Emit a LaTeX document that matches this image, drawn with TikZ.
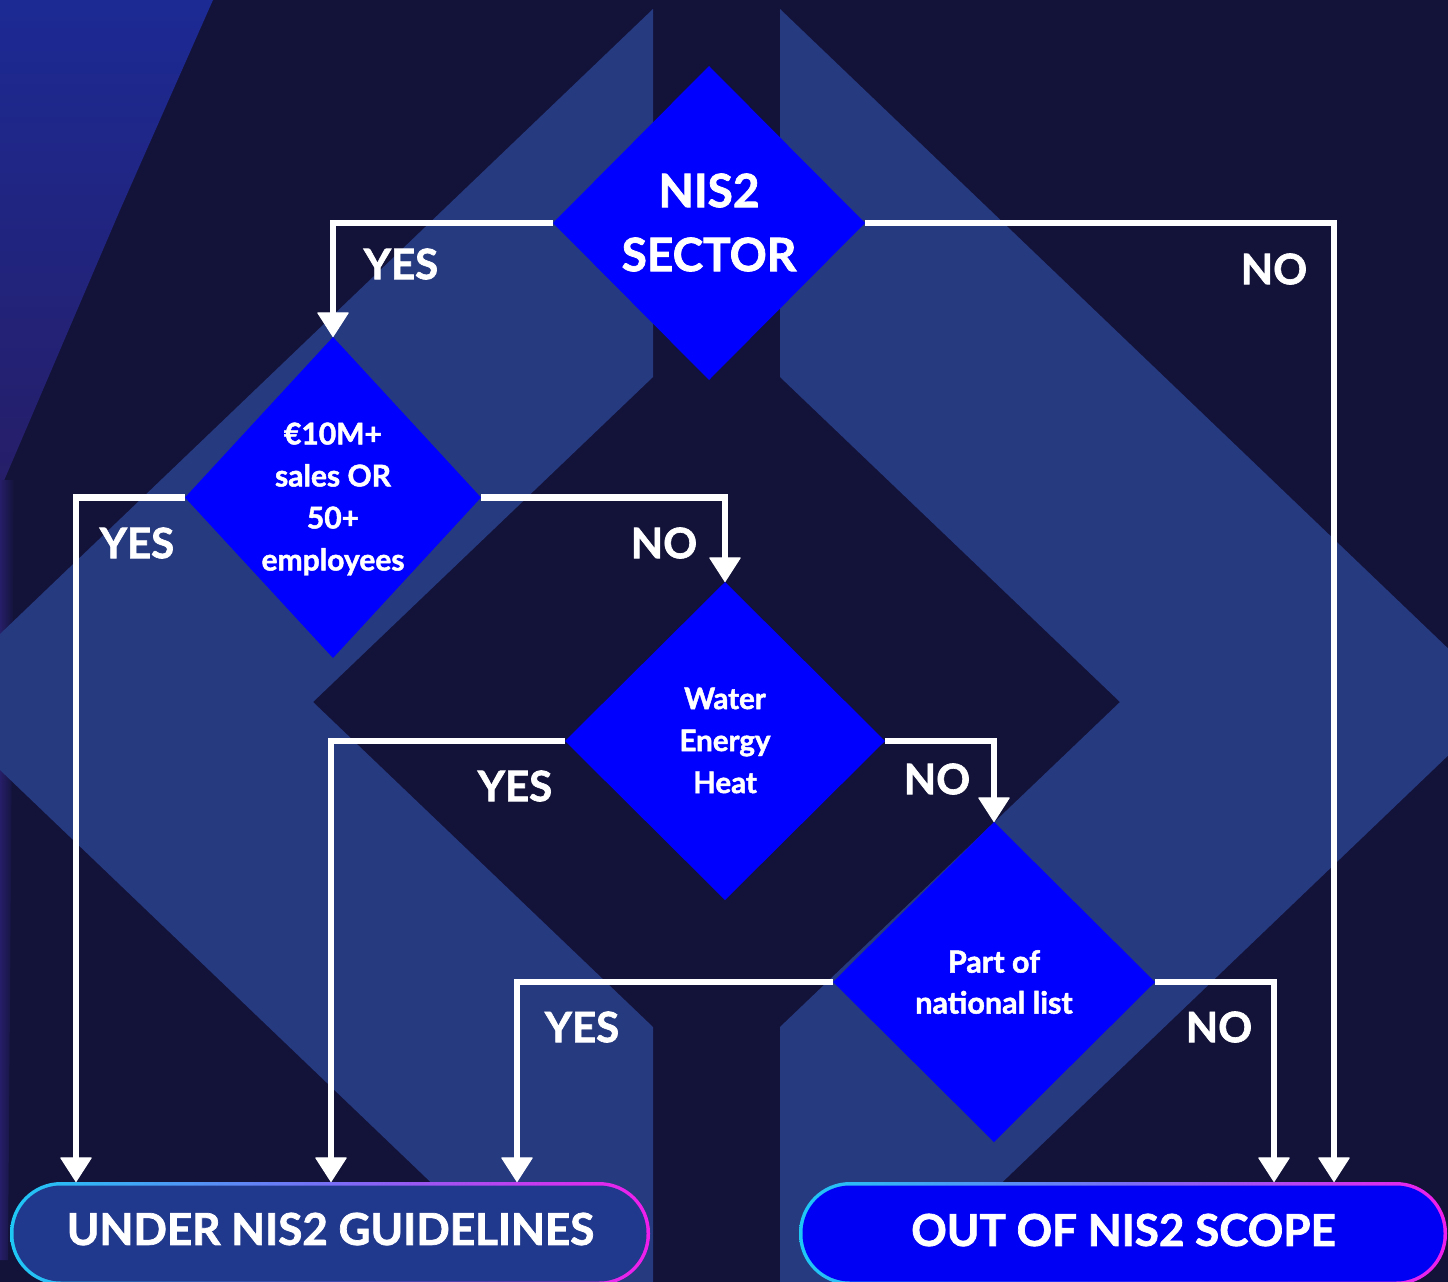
\documentclass[tikz,border=0pt]{standalone}
\usepackage{fontspec}
\setmainfont{Lato}[BoldFeatures={FakeBold=1.6}]
\usetikzlibrary{shapes.geometric,arrows.meta}
\definecolor{bgdark}{RGB}{19,19,58}
\definecolor{band}{RGB}{38,58,128}
\definecolor{diablue}{RGB}{0,0,255}
\definecolor{termL}{RGB}{33,57,140}
\definecolor{termR}{RGB}{0,0,245}
\definecolor{gcyan}{RGB}{30,200,245}
\definecolor{gmid}{RGB}{120,110,245}
\definecolor{gmag}{RGB}{240,30,235}
\definecolor{glowtop}{RGB}{28,42,148}
\definecolor{glowbot}{RGB}{38,30,104}
\begin{document}
\begin{tikzpicture}[x=1pt,y=-1pt,
  diabox/.style={diamond, fill=diablue, inner sep=0pt, outer sep=0pt},
  conn/.style={draw=white, line width=6.5pt, -{Triangle[width=32pt,length=25pt,line width=1pt,round]}},
  lbl/.style={text=white, font=\bfseries\fontsize{42}{42}\selectfont, inner sep=0pt},
  dtxt/.style={text=white, align=center, inner sep=0pt},
  termtxt/.style={text=white, font=\bfseries\fontsize{44}{44}\selectfont, inner sep=0pt},
  termborder/.style={rectangle, rounded corners=51pt, minimum height=103pt, inner sep=0pt, outer sep=0pt, left color=gcyan, right color=gmag, middle color=gmid},
  terminner/.style={rectangle, rounded corners=47.5pt, minimum height=96pt, inner sep=0pt, outer sep=0pt},
]
\useasboundingbox (0,0) rectangle (1448,1282);
\fill[bgdark] (0,0) rectangle (1448,1282);
\begin{scope}
  \clip (0,0) rectangle (1448,1282);
  % glow on the left
  \shade[top color=glowtop, bottom color=glowbot] (0,0) -- (213,0) -- (120,210) -- (15,455) -- (0,490) -- cycle;
  \shade[left color=glowbot, right color=bgdark] (0,480) -- (14,480) -- (8,1260) -- (0,1260) -- cycle;
  % chevron bands
  \fill[band] (653,9) -- (653,377) -- (313,702) -- (653,1027) -- (653,1395) -- (-71,702) -- cycle;
  \fill[band] (780,9) -- (780,377) -- (1120,702) -- (780,1027) -- (780,1395) -- (1504,702) -- cycle;
\end{scope}

% decision diamonds
\node[diabox, minimum width=312pt, minimum height=314pt] (d1) at (709,223) {};
\node[diabox, minimum width=296pt, minimum height=321pt] (d2) at (333,497.5) {};
\node[diabox, minimum width=320pt, minimum height=318pt] (d3) at (725,741) {};
\node[diabox, minimum width=322pt, minimum height=320pt] (d4) at (994,982) {};

\node[dtxt, font=\bfseries\fontsize{46}{64}\selectfont] (t1) at (709,222.5) {NIS2\\SECTOR};
\node[dtxt, font=\bfseries\fontsize{30}{42}\selectfont] (t2) at (333,499) {€10M+\\sales OR\\50+\\employees};
\node[dtxt, font=\bfseries\fontsize{29.5}{42}\selectfont] (t3) at (725,740.5) {Water\\Energy\\Heat};
\node[dtxt, font=\bfseries\fontsize{30.5}{41}\selectfont] (t4) at (994,982) {Part of\\national list};

% terminals
\node[termborder, minimum width=640pt] (Lb) at (330,1233.5) {};
\node[terminner, minimum width=633pt, fill=termL] (L) at (330,1233.5) {};
\node[termborder, minimum width=648pt] (Rb) at (1123,1233.5) {};
\node[terminner, minimum width=641pt, fill=termR] (R) at (1123,1233.5) {};
\node[termtxt] (Lt) at (330.5,1229) {UNDER NIS2 GUIDELINES};
\node[termtxt] (Rt) at (1123.5,1230) {OUT OF NIS2 SCOPE};

\coordinate (L1) at (76,1182);
\coordinate (L2) at (331,1182);
\coordinate (L3) at (517,1182);
\coordinate (R1) at (1274,1182);
\coordinate (R2) at (1334,1182);

% connectors
\draw[conn] (d1.west) -| (d2.north);
\draw[conn] (d1.east) -| (R2);
\draw[conn] (d2.west) -| (L1);
\draw[conn] (d2.east) -| (d3.north);
\draw[conn] (d3.west) -| (L2);
\draw[conn] (d3.east) -| (d4.north);
\draw[conn] (d4.west) -| (L3);
\draw[conn] (d4.east) -| (R1);

% labels
\node[lbl] (y1) at (401,264) {YES};
\node[lbl] (n1) at (1274,269) {NO};
\node[lbl] (y2) at (137,543) {YES};
\node[lbl] (n2) at (664,543) {NO};
\node[lbl] (y3) at (515,786) {YES};
\node[lbl] (n3) at (937,779) {NO};
\node[lbl] (y4) at (582,1027) {YES};
\node[lbl] (n4) at (1219,1027) {NO};
\end{tikzpicture}
\end{document}
